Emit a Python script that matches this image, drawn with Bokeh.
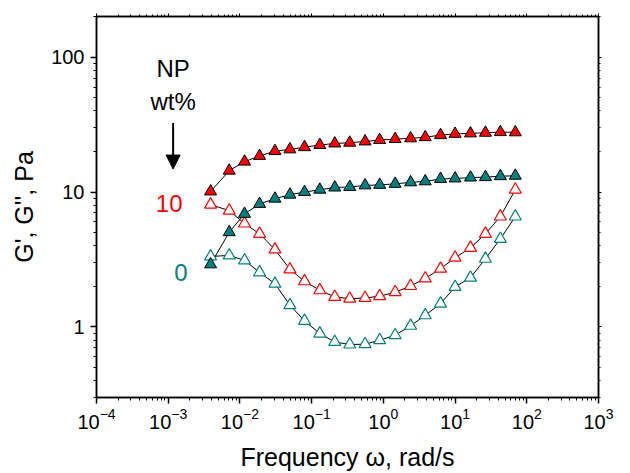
from bokeh.plotting import figure
from bokeh.models import (LogAxis, Range1d, Arrow, NormalHead, Label, FixedTicker,
                          CustomJSTickFormatter, ColumnDataSource)
from bokeh.embed import file_html
from bokeh.resources import INLINE

# ---- data ----
freq = [0.0039, 0.0071, 0.0116, 0.0188, 0.0308, 0.0498, 0.0796, 0.130, 0.210, 0.340,
        0.556, 0.889, 1.46, 2.40, 3.84, 6.27, 10.0, 16.4, 26.5, 42.8, 69.2]
g1_np10 = [10.1, 14.4, 16.8, 18.5, 20.1, 20.7, 21.5, 22.3, 22.9, 23.2, 23.7,
           24.3, 24.7, 25.0, 25.5, 26.4, 27.0, 27.2, 27.5, 27.8, 27.7]
g1_np0 = [2.91, 5.04, 6.89, 8.16, 8.93, 9.56, 10.0, 10.4, 10.8, 10.9, 11.2,
          11.3, 11.5, 11.8, 12.0, 12.5, 12.6, 12.8, 12.9, 13.1, 13.2]
g2_np10 = [8.07, 7.28, 5.84, 4.90, 3.75, 2.67, 2.18, 1.87, 1.67, 1.62, 1.64,
           1.69, 1.81, 2.01, 2.29, 2.70, 3.26, 3.86, 4.90, 6.58, 10.4]
g2_np0 = [3.33, 3.39, 3.11, 2.54, 2.09, 1.45, 1.11, 0.893, 0.774, 0.741, 0.745,
          0.797, 0.868, 1.02, 1.22, 1.49, 1.98, 2.32, 3.20, 4.49, 6.58]

x_ticks = [1e-4, 1e-3, 1e-2, 1e-1, 1e0, 1e1, 1e2, 1e3]
y_ticks = [1, 10, 100]
x_minor = [m * 10.0 ** e for e in range(-4, 3) for m in range(2, 10)]
y_minor = [m * 10.0 ** e for e in range(-1, 3) for m in range(2, 10) if 0.3 <= m * 10.0 ** e <= 200]

legend_title = ["NP", "wt%"]
series_labels = ["10", "0"]

RED = "#ff0000"
TEAL = "#008080"
FONT = "Liberation Sans"

p = figure(width=622, height=473, x_axis_type="log", y_axis_type="log",
           x_range=Range1d(1e-4, 1e3), y_range=Range1d(0.3, 200),
           output_backend="svg", toolbar_location=None,
           min_border_left=96, min_border_right=24, min_border_top=16, min_border_bottom=75)
p.grid.visible = False
p.outline_line_color = "black"
p.outline_line_width = 1.5
p.background_fill_color = "white"
p.border_fill_color = "white"

xa = p.xaxis[0]
xa.ticker = FixedTicker(ticks=x_ticks, minor_ticks=x_minor)
ya = p.yaxis[0]
ya.ticker = FixedTicker(ticks=y_ticks, minor_ticks=y_minor)
ya.formatter = CustomJSTickFormatter(code="return tick.toFixed(0)")

for ax in (xa, ya):
    ax.axis_line_width = 1.5
    ax.axis_line_color = "black"
    ax.major_tick_line_width = 1.5
    ax.minor_tick_line_width = 1
    ax.major_tick_out = 6
    ax.major_tick_in = 0
    ax.minor_tick_out = 3
    ax.minor_tick_in = 0
    ax.major_label_text_font = FONT
    ax.major_label_text_font_size = "20px"
    ax.major_label_text_color = "black"
    ax.axis_label_text_font = FONT
    ax.axis_label_text_font_size = "25px"
    ax.axis_label_text_font_style = "normal"
    ax.axis_label_text_color = "black"

xa.axis_label = "Frequency \u03c9, rad/s"
xa.major_label_standoff = 4
xa.axis_label_standoff = 11
ya.axis_label = "G', G'', Pa"
ya.major_label_standoff = 6
ya.axis_label_standoff = 10

# opposite (frame) axes with ticks only
empty = CustomJSTickFormatter(code="return ''")
top = LogAxis(ticker=FixedTicker(ticks=x_ticks, minor_ticks=x_minor), formatter=empty)
right = LogAxis(ticker=FixedTicker(ticks=y_ticks, minor_ticks=y_minor), formatter=empty)
for ax in (top, right):
    ax.axis_line_width = 1.5
    ax.major_tick_out = 3
    ax.major_tick_in = 0
    ax.minor_tick_out = 2
    ax.minor_tick_in = 0
    ax.major_label_standoff = 0
    ax.major_label_text_font_size = "1px"
p.add_layout(top, "above")
p.add_layout(right, "right")

src = ColumnDataSource(dict(f=freq, a=g1_np10, b=g1_np0, c=g2_np10, d=g2_np0))

for col in ("a", "b", "c", "d"):
    p.line("f", col, source=src, line_color="black", line_width=1)

p.scatter("f", "c", source=src, marker="triangle", size=12, fill_color="white",
          line_color=RED, line_width=1.2)
p.scatter("f", "d", source=src, marker="triangle", size=12, fill_color="white",
          line_color=TEAL, line_width=1.2)
p.scatter("f", "a", source=src, marker="triangle", size=12, fill_color=RED,
          line_color="black", line_width=1)
p.scatter("f", "b", source=src, marker="triangle", size=12, fill_color=TEAL,
          line_color="black", line_width=1)

# annotations
p.add_layout(Label(x=0.00117, y=82, text=legend_title[0], text_font=FONT, text_font_size="24px",
                   text_align="center", text_baseline="middle", text_color="black"))
p.add_layout(Label(x=0.00117, y=47, text=legend_title[1], text_font=FONT, text_font_size="24px",
                   text_align="center", text_baseline="middle", text_color="black"))
p.add_layout(Label(x=0.00103, y=8.2, text=series_labels[0], text_font=FONT, text_font_size="24px",
                   text_align="center", text_baseline="middle", text_color=RED))
p.add_layout(Label(x=0.00150, y=2.54, text=series_labels[1], text_font=FONT, text_font_size="24px",
                   text_align="center", text_baseline="middle", text_color=TEAL))
p.add_layout(Arrow(end=NormalHead(size=14, fill_color="black", line_color="black"),
                   x_start=0.00117, y_start=32.5, x_end=0.00117, y_end=14.8,
                   line_width=2, line_color="black"))

open("out.html", "w").write(file_html(p, INLINE))
